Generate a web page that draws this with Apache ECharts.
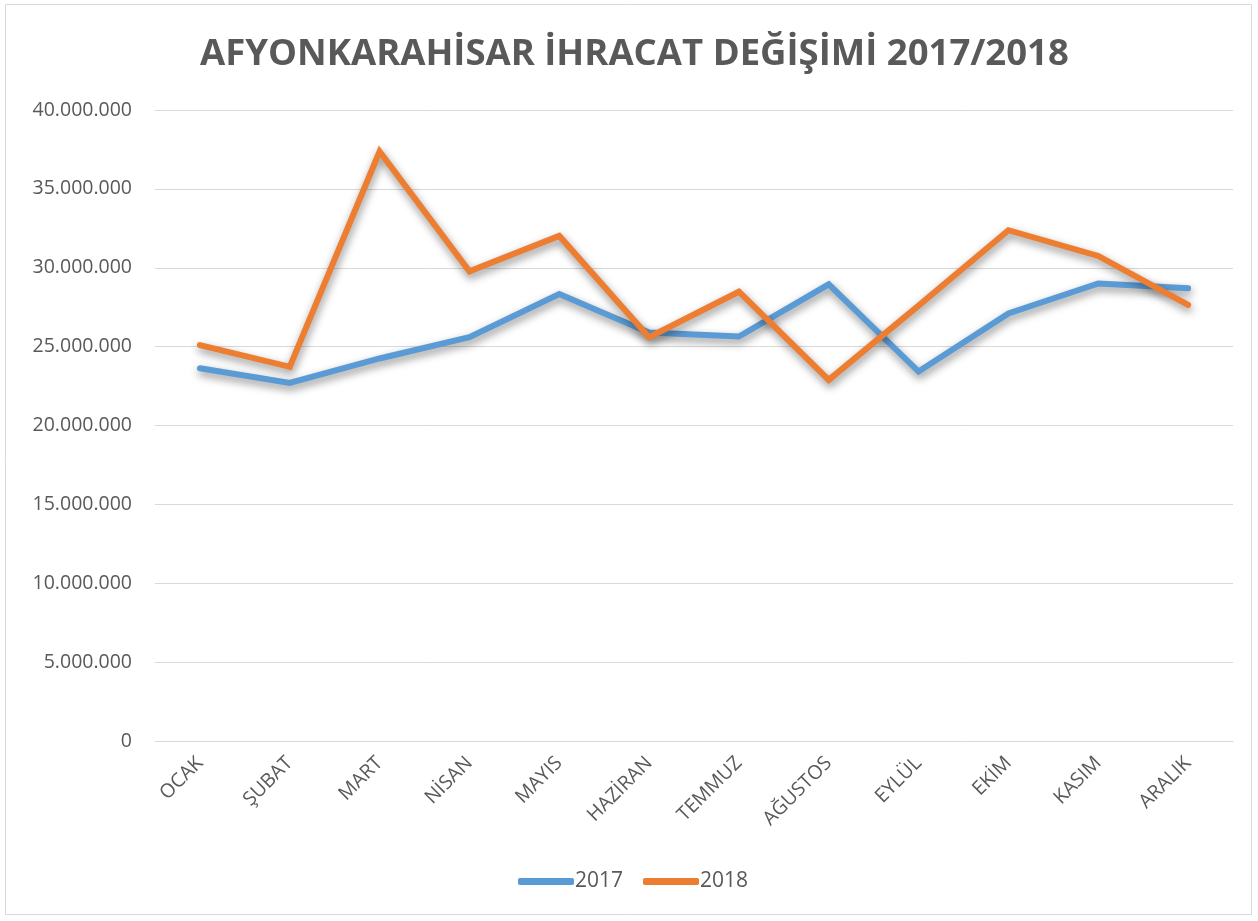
<!DOCTYPE html>
<html>
<head>
<meta charset="utf-8">
<title>Afyonkarahisar ihracat</title>
<script src="https://cdn.jsdelivr.net/npm/echarts@6/dist/echarts.min.js"></script>
<style>
  html, body { margin: 0; padding: 0; background: #fff; }
  #main { width: 1258px; height: 921px; }
</style>
</head>
<body>
<div id="main"></div>
<script>
// aylar
var months = ["OCAK", "ŞUBAT", "MART", "NİSAN", "MAYIS", "HAZİRAN", "TEMMUZ", "AĞUSTOS", "EYLÜL", "EKİM", "KASIM", "ARALIK"];
// değerler
var values2017 = [23630000, 22700000, 24250000, 25600000, 28340000, 25900000, 25640000, 28950000, 23420000, 27100000, 29000000, 28700000];
var values2018 = [25100000, 23720000, 37370000, 29770000, 32020000, 25600000, 28480000, 22890000, 27600000, 32380000, 30750000, 27640000];
var yTicks = [0, 5000000, 10000000, 15000000, 20000000, 25000000, 30000000, 35000000, 40000000];

var textColor = "#595959";
var font = "'Open Sans', 'DejaVu Sans', sans-serif";

function fmt(v) {
  // 40.000.000 gibi nokta ile binlik ayırıcı
  return String(v).replace(/\B(?=(\d{3})+(?!\d))/g, ".");
}

var chart = echarts.init(document.getElementById("main"));

var lineSeries = function (name, data, color) {
  return {
    name: name,
    type: "line",
    data: data,
    symbol: "none",
    lineStyle: {
      color: color,
      width: 6,
      cap: "round",
      join: "miter",
      shadowColor: "rgba(0,0,0,0.45)",
      shadowBlur: 8,
      shadowOffsetX: 1,
      shadowOffsetY: 4
    },
    itemStyle: { color: color }
  };
};

var option = {
  backgroundColor: "#fff",
  animation: false,
  title: {
    text: "AFYONKARAHİSAR İHRACAT DEĞİŞİMİ 2017/2018",
    left: 195,
    top: 31,
    textStyle: {
      fontFamily: font,
      fontSize: 36.5,
      fontWeight: "bold",
      color: textColor
    }
  },
  graphic: [{
    type: "rect",
    shape: { x: 5.5, y: 4.5, width: 1246, height: 910 },
    style: { fill: "none", stroke: "#d9d9d9", lineWidth: 1 },
    silent: true,
    z: -1
  }],
  legend: {
    bottom: 24,
    left: 513,
    itemWidth: 56,
    itemHeight: 7,
    itemGap: 20,
    icon: "roundRect",
    textStyle: { fontFamily: font, fontSize: 21, color: textColor, padding: [0, 0, 0, -4] },
    data: ["2017", "2018"]
  },
  grid: { left: 155, right: 25, top: 110, bottom: 180, containLabel: false },
  xAxis: {
    type: "category",
    data: months,
    boundaryGap: true,
    axisLine: { show: true, lineStyle: { color: "#d9d9d9", width: 1 } },
    axisTick: { show: false },
    axisLabel: {
      rotate: 45,
      margin: 19,
      fontFamily: font,
      fontSize: 19.5,
      color: textColor
    }
  },
  yAxis: {
    type: "value",
    min: yTicks[0],
    max: yTicks[yTicks.length - 1],
    interval: yTicks[1] - yTicks[0],
    axisLine: { show: false },
    axisTick: { show: false },
    splitLine: { lineStyle: { color: "#d9d9d9", width: 1 } },
    axisLabel: {
      margin: 23,
      fontFamily: font,
      fontSize: 19.5,
      color: textColor,
      formatter: fmt
    }
  },
  series: [
    lineSeries("2017", values2017, "#5B9BD5"),
    lineSeries("2018", values2018, "#ED7D31")
  ]
};

chart.setOption(option);
</script>
</body>
</html>
